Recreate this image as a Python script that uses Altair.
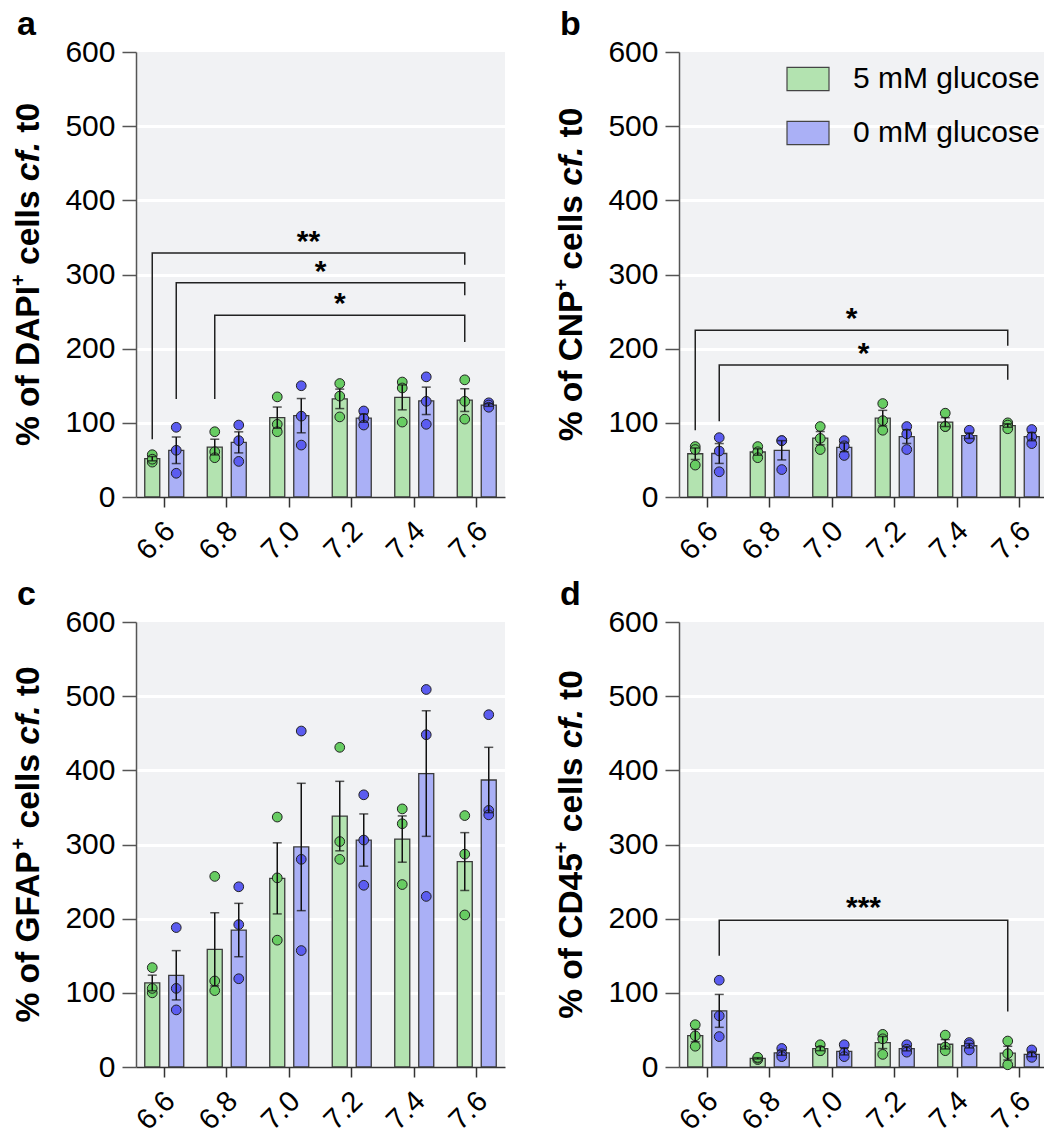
import altair as alt
import pandas as pd

FONT = "Liberation Sans"
PH = ["6.6", "6.8", "7.0", "7.2", "7.4", "7.6"]
SERIES = ["5 mM glucose", "0 mM glucose"]

# individual replicate values (% of cells cf. t0), three per bar
DAPI_5 = [[57, 47, 51], [88, 61, 53], [135, 98, 88], [153, 136, 108], [155, 147, 101], [158, 129, 105]]
DAPI_0 = [[94, 63, 32], [97, 76, 48], [150, 109, 70], [116, 106, 97], [162, 129, 98], [127, 124, 121]]
CNP_5 = [[68, 64, 43], [68, 61, 53], [95, 79, 64], [126, 103, 90], [113, 95, 95], [100, 97, 92]]
CNP_0 = [[80, 62, 34], [76, 76, 37], [76, 69, 56], [95, 85, 64], [90, 79, 79], [91, 81, 72]]
GFAP_5 = [[134, 100, 106], [257, 116, 103], [337, 255, 171], [431, 304, 280], [348, 328, 246], [339, 287, 205]]
GFAP_0 = [[188, 106, 77], [243, 192, 119], [453, 280, 157], [367, 306, 245], [509, 448, 230], [475, 346, 340]]
CD45_5 = [[57, 42, 28], [10, 12, 13], [30, 22, 22], [44, 38, 17], [43, 27, 22], [35, 18, 3]]
CD45_0 = [[117, 69, 41], [25, 18, 14], [30, 19, 14], [30, 24, 20], [33, 30, 23], [23, 15, 13]]

# significance brackets: (left pH, left series, right pH, right series,
#                         left leg bottom, top, right leg bottom, label, label centre)
BRACKETS_A = [
    ("6.6", SERIES[0], "7.6", SERIES[0], 78, 329, 313, "**", 354),
    ("6.6", SERIES[1], "7.6", SERIES[0], 132, 289, 272, "*", 313),
    ("6.8", SERIES[0], "7.6", SERIES[0], 132, 245, 209, "*", 271),
]
BRACKETS_B = [
    ("6.6", SERIES[0], "7.6", SERIES[0], 90, 225, 204, "*", 250),
    ("6.6", SERIES[1], "7.6", SERIES[0], 102, 178, 158, "*", 203),
]
BRACKETS_C = []
BRACKETS_D = [
    ("6.6", SERIES[1], "7.6", SERIES[0], 150, 198, 75, "***", 224),
]

BAR_COLORS = ["#b3e3b0", "#aab0f6"]
DOT_COLORS = ["#67cc62", "#5b5cf0"]
BG = "#f1f2f4"

H = 445
PI = 0.376      # band padding between pH groups
PI2 = 0.375     # padding between the two bars of a group
NPH = len(PH)

# Arial/Liberation Sans Bold advance widths (per 1000 em) for laying out the y titles
WB = {'%': 889, ' ': 278, 'o': 611, 'f': 333, 'D': 722, 'A': 722, 'P': 667, 'I': 278,
      'C': 722, 'N': 722, 'G': 778, 'F': 611, '4': 556, '5': 556, 'c': 556, 'e': 556,
      'l': 278, 's': 556, '.': 278, 't': 333, '0': 556, '+': 584}


def tw(s, size):
    return sum(WB[ch] for ch in s) / 1000.0 * size


def text_layer(text, x, y, size, style="normal", angle=0, align="left", dy=0):
    return alt.Chart(pd.DataFrame({"t": [text]})).mark_text(
        font=FONT, fontSize=size, fontWeight="bold", fontStyle=style, angle=angle,
        align=align, baseline="alphabetic", color="black", dy=dy
    ).encode(text="t:N", x=alt.value(x), y=alt.value(y))


def xpos(ph, s):
    shift = (1 - PI) / (2 - PI2) / 2
    return PH.index(ph) + (-shift if s == SERIES[0] else shift)


def panel(letter, marker, g5, g0, brackets, show_legend, W, PO, ALIGN):
    rows = []
    for i, ph in enumerate(PH):
        for v in g5[i]:
            rows.append({"pH": ph, "series": SERIES[0], "value": v})
        for v in g0[i]:
            rows.append({"pH": ph, "series": SERIES[1], "value": v})
    df = pd.DataFrame(rows)

    xaxis = alt.Axis(title=None, labelAngle=-45, labelFontSize=29, labelFont=FONT,
                     labelColor="black", labelAlign="right", labelBaseline="middle",
                     labelOffset=6, tickSize=10, tickWidth=1.5, tickColor="#333",
                     domainColor="#333", domainWidth=1.5, labelPadding=19, grid=False)
    yaxis = alt.Axis(title=None, values=[0, 100, 200, 300, 400, 500, 600], labelFontSize=30,
                     labelFont=FONT, labelColor="black", tickSize=14, tickWidth=1.5,
                     tickColor="#555", domainColor="#555", domainWidth=1.5, labelPadding=7,
                     grid=True, gridColor="white", gridWidth=3,
                     gridOpacity=alt.condition("datum.value == 0 || datum.value == 600",
                                               alt.value(0), alt.value(1)))
    xenc = alt.X("pH:N", scale=alt.Scale(domain=PH, paddingInner=PI, paddingOuter=PO, align=ALIGN),
                 axis=xaxis)
    xoff = alt.XOffset("series:N", scale=alt.Scale(domain=SERIES, paddingInner=PI2, paddingOuter=0))
    yscale = alt.Scale(domain=[0, 600], nice=False, zero=True)

    if show_legend:
        leg = alt.Legend(title=None, orient="none", legendX=107, legendY=5, direction="vertical",
                         symbolType="M-1,-0.55H1V0.55H-1Z", symbolSize=1764,
                         symbolStrokeColor="#444", symbolStrokeWidth=1.2, symbolOpacity=1,
                         labelFont=FONT, labelFontSize=30, labelColor="black",
                         labelOffset=23, labelLimit=500, rowPadding=17, padding=0)
    else:
        leg = None

    base = alt.Chart(df)
    stats = base.transform_aggregate(
        mean="mean(value)", sd="stdev(value)", n="count()", groupby=["pH", "series"]
    ).transform_calculate(
        lo="datum.mean - datum.sd / sqrt(datum.n)",
        hi="datum.mean + datum.sd / sqrt(datum.n)",
    )
    bars = stats.mark_bar(stroke="#3a3a3a", strokeWidth=1.3).encode(
        x=xenc, xOffset=xoff,
        y=alt.Y("mean:Q", scale=yscale, axis=yaxis),
        fill=alt.Fill("series:N", scale=alt.Scale(domain=SERIES, range=BAR_COLORS), legend=leg),
    )
    err = stats.mark_rule(color="#111", strokeWidth=1.5).encode(
        x=xenc, xOffset=xoff, y=alt.Y("lo:Q", scale=yscale), y2="hi:Q")
    cap_lo = stats.mark_tick(color="#111", thickness=1.5, size=9).encode(
        x=xenc, xOffset=xoff, y=alt.Y("lo:Q", scale=yscale))
    cap_hi = stats.mark_tick(color="#111", thickness=1.5, size=9).encode(
        x=xenc, xOffset=xoff, y=alt.Y("hi:Q", scale=yscale))
    dots = base.mark_circle(size=95, opacity=1, stroke="#222", strokeWidth=1).encode(
        x=xenc, xOffset=xoff, y=alt.Y("value:Q", scale=yscale),
        fill=alt.condition(alt.datum.series == SERIES[0], alt.value(DOT_COLORS[0]),
                           alt.value(DOT_COLORS[1])),
    )
    layers = [alt.layer(bars, dots, err, cap_lo, cap_hi)]

    if brackets:
        # a linear scale that lines up exactly with the band scale above
        step = W / (NPH - PI + 2 * PO)
        start = (W - step * (NPH - PI)) * ALIGN
        bw = step * (1 - PI)
        lo_d = -(start + bw / 2) / step
        hi_d = (NPH - 1) + (W - start - (NPH - 1) * step - bw / 2) / step
        qscale = alt.Scale(domain=[lo_d, hi_d], nice=False, zero=False)
        brows, lrows = [], []
        for k, (lp, ls, rp, rs, lb, top, rb, lab, ly) in enumerate(brackets):
            xl, xr = xpos(lp, ls), xpos(rp, rs)
            for j, (xx, yy) in enumerate([(xl, lb), (xl, top), (xr, top), (xr, rb)]):
                brows.append({"id": k, "k": j, "pos": xx, "v": yy})
            lrows.append({"pos": (xl + xr) / 2, "v": ly, "label": lab})
        brk = alt.Chart(pd.DataFrame(brows)).mark_line(color="#222", strokeWidth=1.5).encode(
            x=alt.X("pos:Q", scale=qscale, axis=None),
            y=alt.Y("v:Q", scale=yscale),
            detail="id:N", order="k:Q")
        lab = alt.Chart(pd.DataFrame(lrows)).mark_text(
            font=FONT, fontSize=30, fontWeight="bold", color="black", dy=16.5,
            baseline="alphabetic", align="center").encode(
            x=alt.X("pos:Q", scale=qscale, axis=None),
            y=alt.Y("v:Q", scale=yscale), text="label:N")
        layers.append(alt.layer(brk, lab))

    # y title: "% of X⁺ cells cf. t0" (cf. in italics)
    F, FS = 33.5, 20
    s1 = "% of " + marker
    p_sup = tw(s1, F)
    p_cells = p_sup + tw("+", FS) + tw(" ", F)
    p_cf = p_cells + tw("cells ", F)
    p_t0 = p_cf + tw("cf. ", F)
    total = p_t0 + tw("t0", F)
    y0 = H / 2 + total / 2
    xb = -97
    layers += [
        text_layer(s1, xb, y0, F, angle=270),
        text_layer("+", xb - 14, y0 - p_sup, FS, angle=270),
        text_layer("cells", xb, y0 - p_cells, F, angle=270),
        text_layer("cf.", xb, y0 - p_cf, F, style="italic", angle=270),
        text_layer("t0", xb, y0 - p_t0, F, angle=270),
        text_layer(letter, -119, -17, 34),
    ]

    ch = alt.layer(*layers).properties(width=W, height=H)
    if brackets:
        ch = ch.resolve_scale(x="independent")
    return ch


panels = [
    panel("a", "DAPI", DAPI_5, DAPI_0, BRACKETS_A, False, 369, 0.14, 0.5),
    panel("b", "CNP", CNP_5, CNP_0, BRACKETS_B, True, 365, 0.108, 0.648),
    panel("c", "GFAP", GFAP_5, GFAP_0, BRACKETS_C, False, 369, 0.14, 0.5),
    panel("d", "CD45", CD45_5, CD45_0, BRACKETS_D, False, 365, 0.108, 0.648),
]

chart = alt.concat(*panels, columns=2, spacing={"row": 12, "column": 47}).resolve_scale(
    fill="independent").resolve_legend(fill="independent").properties(
    padding={"left": 9, "top": 8, "right": 0, "bottom": 0}
).configure_view(fill=BG, stroke=None)

chart.save("out.html", embed_options={"renderer": "svg", "actions": False})
